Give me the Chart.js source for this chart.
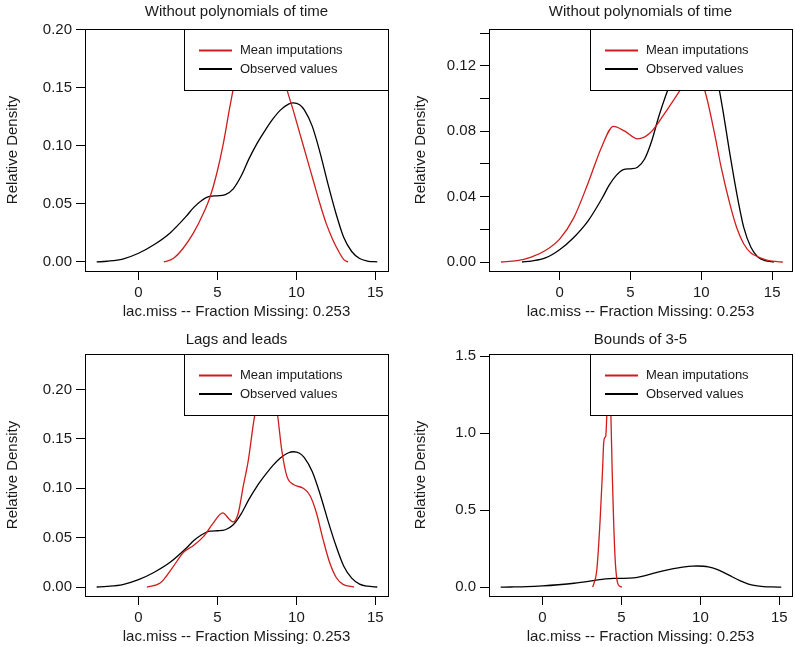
<!DOCTYPE html>
<html>
<head>
<meta charset="utf-8">
<script src="https://cdn.jsdelivr.net/npm/chart.js@4.4.1/dist/chart.umd.min.js"></script>
<style>
    body { margin: 0; background: #fff; overflow: hidden; }
    #wrap { position: relative; width: 795px; height: 647px; overflow: hidden; }
    canvas { position: absolute; }
</style>
</head>
<body>
<div id="wrap">
    <canvas id="c1" width="397" height="323" style="left:0;top:0"></canvas>
    <canvas id="c2" width="391" height="323" style="left:404px;top:0"></canvas>
    <canvas id="c3" width="397" height="323" style="left:0;top:325px"></canvas>
    <canvas id="c4" width="391" height="323" style="left:404px;top:325px"></canvas>
</div>
<script>
// texts
const panelTitles = ['Without polynomials of time', 'Without polynomials of time', 'Lags and leads', 'Bounds of 3-5'];
const xAxisTitle = 'lac.miss -- Fraction Missing: 0.253';
const yAxisTitle = 'Relative Density';
const legendLabels = ['Mean imputations', 'Observed values'];

// observed values density (same in every panel)
const obsX = [-2.65, -2, -1, 0, 1, 2, 3, 3.5, 4, 4.5, 5, 5.5, 6, 6.5, 7, 7.5, 8, 8.5, 9, 9.5, 9.8, 10.2, 10.5, 11, 11.5, 12, 12.5, 13, 13.5, 14, 14.5, 15.12];
const obsY = [0, 0.0006, 0.0025, 0.0075, 0.015, 0.025, 0.039, 0.047, 0.053, 0.0565, 0.057, 0.058, 0.063, 0.074, 0.089, 0.102, 0.113, 0.123, 0.131, 0.136, 0.137, 0.1355, 0.131, 0.117, 0.094, 0.067, 0.042, 0.021, 0.009, 0.003, 0.0008, 0];

// mean imputations density, one per panel
const imp1X = [1.6, 2.2, 2.84, 3.48, 4.11, 4.53, 4.95, 5.37, 5.79, 6.3, 7.0, 7.7, 8.4, 9.0, 9.41, 9.79, 10.21, 10.63, 11.05, 11.47, 11.89, 12.31, 12.74, 13.0, 13.27];
const imp1Y = [0, 0.003, 0.012, 0.025, 0.042, 0.056, 0.076, 0.102, 0.134, 0.168, 0.19, 0.195, 0.19, 0.17, 0.148, 0.131, 0.111, 0.091, 0.071, 0.051, 0.033, 0.019, 0.0075, 0.002, 0];

const imp2X = [-4.13, -3, -2, -1, 0, 1, 2, 3, 3.8, 4.6, 5.5, 6.4, 7.5, 8.5, 9.3, 10.2, 10.9, 11.4, 12, 12.5, 13, 13.5, 14, 14.5, 15, 15.75];
const imp2Y = [0, 0.0008, 0.003, 0.007, 0.014, 0.027, 0.048, 0.071, 0.083, 0.080, 0.0753, 0.079, 0.092, 0.105, 0.115, 0.106, 0.080, 0.058, 0.036, 0.021, 0.011, 0.0055, 0.0032, 0.0015, 0.0005, 0];

const imp3X = [0.53, 1.37, 2.21, 2.84, 3.48, 4.11, 4.74, 5.33, 5.79, 6.0, 6.32, 6.63, 6.95, 7.27, 7.37, 7.8, 8.3, 8.8, 9.06, 9.4, 9.79, 10.43, 10.85, 11.27, 11.69, 12.11, 12.53, 12.95, 13.65];
const imp3Y = [0, 0.004, 0.021, 0.035, 0.042, 0.051, 0.065, 0.075, 0.068, 0.066, 0.075, 0.102, 0.128, 0.165, 0.175, 0.215, 0.22, 0.175, 0.14, 0.112, 0.104, 0.100, 0.093, 0.075, 0.048, 0.0245, 0.0094, 0.0027, 0];

const imp4X = [3.18, 3.44, 3.65, 3.80, 3.88, 3.97, 4.01, 4.07, 4.2, 4.33, 4.41, 4.5, 4.6, 4.71, 4.88, 5.03];
const imp4Y = [0, 0.114, 0.44, 0.76, 0.945, 0.975, 0.985, 1.11, 1.35, 1.114, 0.76, 0.44, 0.18, 0.05, 0.006, 0];

// ticks
const xTicks = [0, 5, 10, 15];
const yTicksA = [0, 0.05, 0.10, 0.15, 0.20];
const yLabelsA = ['0.00', '0.05', '0.10', '0.15', '0.20'];
const yTicksB = [0, 0.02, 0.04, 0.06, 0.08, 0.10, 0.12, 0.14];
const yLabelsB = ['0.00', '', '0.04', '', '0.08', '', '0.12', ''];
const yTicksC = [0, 0.5, 1.0, 1.5];
const yLabelsC = ['0.0', '0.5', '1.0', '1.5'];

const FONT = '"Liberation Sans", Arial, Helvetica, sans-serif';
const RED = '#d01c1c';
const TEXT = '#1a1a1a';

function toPoints(xs, ys) {
    return xs.map((x, i) => ({x: x, y: ys[i]}));
}

// box around the plot region
const frame = {
    id: 'frame',
    afterDraw(chart) {
        const a = chart.chartArea;
        const ctx = chart.ctx;
        ctx.save();
        ctx.strokeStyle = '#000';
        ctx.lineWidth = 1;
        ctx.strokeRect(Math.round(a.left) + 0.5, Math.round(a.top) + 0.5, Math.round(a.right - a.left), Math.round(a.bottom - a.top));
        ctx.restore();
    }
};

// R-style legend box at top right, white filled over the curves
const rLegend = {
    id: 'rLegend',
    afterDatasetsDraw(chart, args, opts) {
        const a = chart.chartArea;
        const ctx = chart.ctx;
        const w = opts.width, h = opts.height;
        const x0 = Math.round(a.right - w), y0 = Math.round(a.top);
        ctx.save();
        ctx.fillStyle = '#fff';
        ctx.fillRect(x0, y0, w, h);
        ctx.strokeStyle = '#000';
        ctx.lineWidth = 1;
        ctx.strokeRect(x0 + 0.5, y0 + 0.5, w, h);
        ctx.font = '13px ' + FONT;
        ctx.textBaseline = 'middle';
        chart.data.datasets.forEach((ds, i) => {
            const y = y0 + 21.5 + i * 18.6;
            ctx.strokeStyle = ds.borderColor;
            ctx.lineWidth = 2;
            ctx.beginPath();
            ctx.moveTo(x0 + 15, y);
            ctx.lineTo(x0 + 48, y);
            ctx.stroke();
            ctx.fillStyle = TEXT;
            ctx.fillText(ds.label, x0 + 56, y);
        });
        ctx.restore();
    }
};

function makePanel(id, p) {
    const ctx = document.getElementById(id);
    return new Chart(ctx, {
        type: 'line',
        data: {
            datasets: [{
                label: legendLabels[0],
                data: toPoints(p.impX, p.impY),
                borderColor: RED,
                borderWidth: 1.3,
                pointRadius: 0,
                cubicInterpolationMode: 'monotone',
                fill: false
            }, {
                label: legendLabels[1],
                data: toPoints(obsX, obsY),
                borderColor: '#000',
                borderWidth: 1.3,
                pointRadius: 0,
                cubicInterpolationMode: 'monotone',
                fill: false
            }]
        },
        options: {
            responsive: false,
            animation: false,
            events: [],
            layout: {padding: {left: 0, top: 0, bottom: 0, right: p.rightPad}},
            plugins: {
                legend: {display: false},
                tooltip: {enabled: false},
                title: {
                    display: true,
                    text: p.title,
                    fullSize: false,
                    color: TEXT,
                    font: {family: FONT, size: 15, weight: 'normal', lineHeight: 1.2},
                    padding: {top: p.titleTop, bottom: 11 - p.titleTop}
                },
                rLegend: {width: p.legendW, height: 61}
            },
            scales: {
                x: {
                    type: 'linear',
                    min: p.xMin,
                    max: p.xMax,
                    afterBuildTicks: (s) => { s.ticks = xTicks.map(v => ({value: v})); },
                    afterFit: (s) => { s.height = 52; },
                    border: {display: false},
                    grid: {drawOnChartArea: false, drawTicks: true, tickLength: 9, color: '#000', tickColor: '#000'},
                    ticks: {
                        color: TEXT,
                        padding: 4,
                        maxRotation: 0,
                        font: {family: FONT, size: 15},
                        callback: (v) => String(v)
                    },
                    title: {
                        display: true,
                        text: xAxisTitle,
                        color: TEXT,
                        font: {family: FONT, size: 15, lineHeight: 1.2},
                        padding: {top: 0, bottom: 2}
                    }
                },
                y: {
                    type: 'linear',
                    min: p.yMin,
                    max: p.yMax,
                    afterBuildTicks: (s) => { s.ticks = p.yTicks.map(v => ({value: v})); },
                    afterFit: (s) => { s.width = 85; },
                    border: {display: false},
                    grid: {drawOnChartArea: false, drawTicks: true, tickLength: 9, color: '#000', tickColor: '#000'},
                    ticks: {
                        color: TEXT,
                        padding: 4,
                        font: {family: FONT, size: 15},
                        callback: (v, i) => p.yLabels[i]
                    },
                    title: {
                        display: true,
                        text: yAxisTitle,
                        color: TEXT,
                        font: {family: FONT, size: 15, lineHeight: 1.2},
                        padding: {top: p.yTitlePad, bottom: 0}
                    }
                }
            }
        },
        plugins: [rLegend, frame]
    });
}

makePanel('c1', {title: panelTitles[0], impX: imp1X, impY: imp1Y, xMin: -3.39, xMax: 15.8, yMin: -0.0078, yMax: 0.2007,
    yTicks: yTicksA, yLabels: yLabelsA, rightPad: 9, legendW: 204, yTitlePad: 4, titleTop: 3});
makePanel('c2', {title: panelTitles[1], impX: imp2X, impY: imp2Y, xMin: -4.98, xMax: 16.4, yMin: -0.0055, yMax: 0.1425,
    yTicks: yTicksB, yLabels: yLabelsB, rightPad: 3, legendW: 202, yTitlePad: 8, titleTop: 3});
makePanel('c3', {title: panelTitles[2], impX: imp3X, impY: imp3Y, xMin: -3.39, xMax: 15.8, yMin: -0.0091, yMax: 0.236,
    yTicks: yTicksA, yLabels: yLabelsA, rightPad: 9, legendW: 204, yTitlePad: 4, titleTop: 6});
makePanel('c4', {title: panelTitles[3], impX: imp4X, impY: imp4Y, xMin: -3.39, xMax: 15.8, yMin: -0.058, yMax: 1.515,
    yTicks: yTicksC, yLabels: yLabelsC, rightPad: 3, legendW: 202, yTitlePad: 8, titleTop: 6});
</script>
</body>
</html>
